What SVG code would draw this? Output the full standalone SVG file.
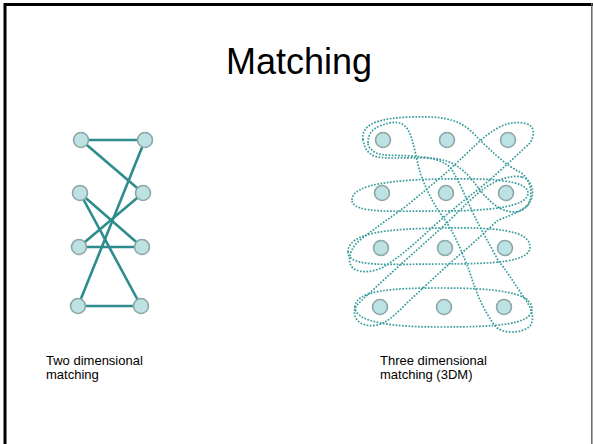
<svg xmlns="http://www.w3.org/2000/svg" width="593" height="444" viewBox="0 0 593 444">
  <style>
    .frame { fill: none; stroke: #000; stroke-width: 3; }
    .title { font-family: "Liberation Sans", Arial, sans-serif; font-size: 36px; fill: #000; }
    .label { font-family: "Liberation Sans", Arial, sans-serif; font-size: 13px; fill: #000; }
    .edge { stroke: #2f8c8c; stroke-width: 2.6; fill: none; }
    .set { stroke: #3a9c9c; stroke-width: 1.7; stroke-dasharray: 1.7 1.5; fill: none; }
    .node circle { fill: #bde2e4; stroke: #8fa6a6; stroke-width: 1.6; }
  </style>

  <rect width="593" height="444" fill="#fff"/>
  <!-- slide frame -->
  <path class="frame" d="M5,446 V4.5 H596"/>
  <path d="M591.8,3 V446" stroke="#666" stroke-width="1.5" fill="none"/>

  <text class="title" x="299" y="74" text-anchor="middle">Matching</text>

  <!-- two dimensional matching: edges -->
  <g id="edges-2d">
    <line class="edge" x1="81" y1="140" x2="145" y2="140"/>
    <line class="edge" x1="81" y1="140" x2="143" y2="193"/>
    <line class="edge" x1="145" y1="140" x2="78" y2="306"/>
    <line class="edge" x1="80" y1="193" x2="142" y2="247"/>
    <line class="edge" x1="80" y1="193" x2="141" y2="306"/>
    <line class="edge" x1="79" y1="247" x2="143" y2="193"/>
    <line class="edge" x1="79" y1="247" x2="142" y2="247"/>
    <line class="edge" x1="78" y1="306" x2="141" y2="306"/>
  </g>

  <!-- two dimensional matching: nodes -->
  <g id="m2-l1" class="node"><circle cx="81" cy="140" r="7.5"/></g>
  <g id="m2-l2" class="node"><circle cx="80" cy="193" r="7.5"/></g>
  <g id="m2-l3" class="node"><circle cx="79" cy="247" r="7.5"/></g>
  <g id="m2-l4" class="node"><circle cx="78" cy="306" r="7.5"/></g>
  <g id="m2-r1" class="node"><circle cx="145" cy="140" r="7.5"/></g>
  <g id="m2-r2" class="node"><circle cx="143" cy="193" r="7.5"/></g>
  <g id="m2-r3" class="node"><circle cx="142" cy="247" r="7.5"/></g>
  <g id="m2-r4" class="node"><circle cx="141" cy="306" r="7.5"/></g>

  <!-- three dimensional matching: dotted triple outlines -->
  <g id="triples-3d">
    <!-- row B -->
    <path class="set" d="M352,200 C352,183 400,180 440,179 C490,178 528,180 528,193 C528,207 490,211 440,211 C395,211 352,214 352,200 Z"/>
    <!-- row C -->
    <path class="set" d="M348,252 C348,232 390,229 440,228 C495,227 530,230 530,247 C530,262 495,264 440,264 C390,264 348,268 348,252 Z"/>
    <!-- row D -->
    <path class="set" d="M355,307 C355,290 395,288 440,288 C495,288 532,292 532,309 C532,325 495,327 440,327 C395,327 355,323 355,307 Z"/>
    <!-- a1, a2, b3 -->
    <path class="set" d="M363,140 C360,122 385,118 410,117 C440,116 455,118 470,130 C490,150 505,165 520,172 C533,180 536,205 520,211 C505,215 492,205 480,190 C465,170 455,160 430,158 C405,157 380,160 372,155 C366,151 364,146 363,140 Z"/>
    <!-- a1, b2, d3 -->
    <path class="set" d="M368,143 C368,134 372,129 380,126 C392,121 402,120 408,130 C414,140 416,160 421,175 C427,192 434,205 445,220 C456,236 463,255 469,270 C475,288 480,305 495,326 C502,334 522,334 530,326 C536,318 530,305 523,296 C512,280 505,268 499,262 C490,245 480,228 473,213 C466,198 460,183 452,170 C445,160 430,157 410,156 C395,155 383,156 376,153 C371,150 368,147 368,143 Z"/>
    <!-- a3, b2, c1 -->
    <path class="set" d="M527,124 C535,126 535,137 529,144 C522,150 512,160 503,168 C490,180 478,190 467,198 C452,210 438,222 425,234 C412,246 398,258 385,266 C375,272 360,274 353,268 C346,262 350,248 360,240 C375,228 390,218 405,207 C420,195 435,182 447,172 C460,160 470,150 480,141 C490,132 500,126 507,124 C514,122 521,122 527,124 Z"/>
    <!-- b3, c2, d1 -->
    <path class="set" d="M522,177 C533,180 536,195 528,205 C517,214 505,217 497,221 C482,235 470,246 457,257 C440,272 423,288 407,303 C398,312 390,320 383,323 C373,328 358,326 355,316 C353,308 357,305 362,300 C375,288 388,276 400,265 C417,250 434,235 450,220 C462,208 472,198 482,190 C492,182 510,174 522,177 Z"/>
  </g>

  <!-- three dimensional matching: nodes -->
  <g id="m3-a1" class="node"><circle cx="383" cy="140" r="7.5"/></g>
  <g id="m3-a2" class="node"><circle cx="447" cy="140" r="7.5"/></g>
  <g id="m3-a3" class="node"><circle cx="508" cy="140" r="7.5"/></g>
  <g id="m3-b1" class="node"><circle cx="382" cy="193" r="7.5"/></g>
  <g id="m3-b2" class="node"><circle cx="446" cy="193" r="7.5"/></g>
  <g id="m3-b3" class="node"><circle cx="506" cy="193" r="7.5"/></g>
  <g id="m3-c1" class="node"><circle cx="381" cy="248" r="7.5"/></g>
  <g id="m3-c2" class="node"><circle cx="445" cy="248" r="7.5"/></g>
  <g id="m3-c3" class="node"><circle cx="505" cy="248" r="7.5"/></g>
  <g id="m3-d1" class="node"><circle cx="380" cy="307" r="7.5"/></g>
  <g id="m3-d2" class="node"><circle cx="444" cy="307" r="7.5"/></g>
  <g id="m3-d3" class="node"><circle cx="504" cy="307" r="7.5"/></g>

  <text class="label" x="46" y="365">Two dimensional</text>
  <text class="label" x="46" y="379">matching</text>
  <text class="label" x="380" y="365">Three dimensional</text>
  <text class="label" x="380" y="379">matching (3DM)</text>
</svg>
